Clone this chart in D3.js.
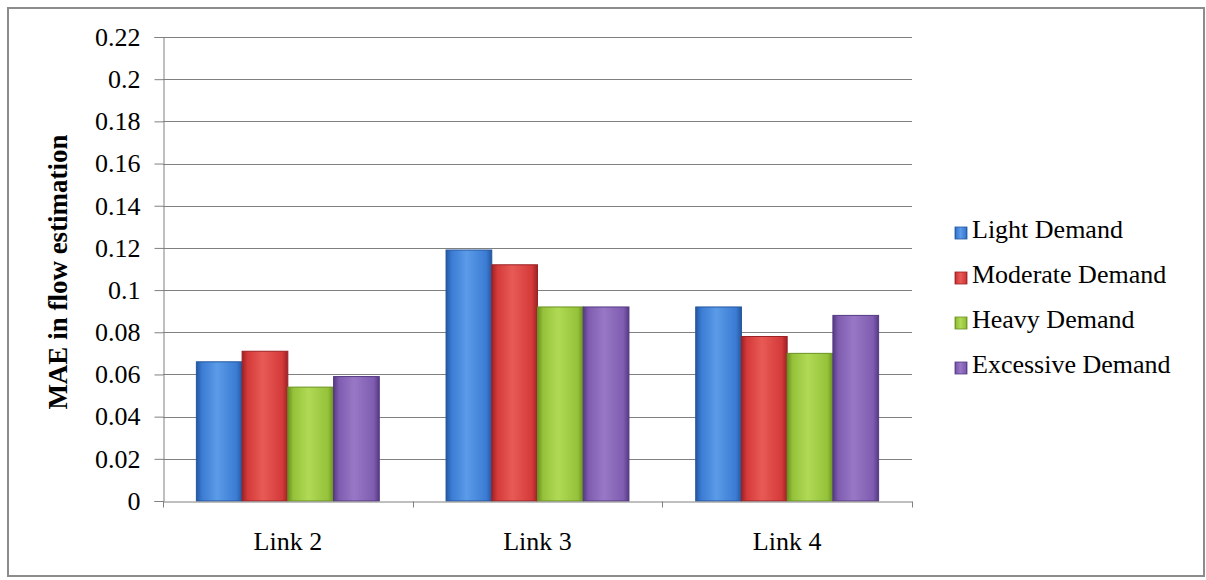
<!DOCTYPE html>
<html>
<head>
<meta charset="utf-8">
<script src="https://cdn.jsdelivr.net/npm/d3@7/dist/d3.min.js"></script>
<style>
  html, body { margin: 0; padding: 0; background: #fff; }
  svg { display: block; }
  text { font-family: "Liberation Serif", "Times New Roman", serif; fill: #000; }
</style>
</head>
<body>
<svg id="chart" width="1206" height="580"></svg>
<script>
// Mean absolute error of flow estimation per link and demand level
const links = ["Link 2", "Link 3", "Link 4"];
const demandLevels = ["Light Demand", "Moderate Demand", "Heavy Demand", "Excessive Demand"];
const lightDemand = [0.066, 0.119, 0.092];
const moderateDemand = [0.071, 0.112, 0.078];
const heavyDemand = [0.054, 0.092, 0.070];
const excessiveDemand = [0.059, 0.092, 0.088];
const yTicks = [0, 0.02, 0.04, 0.06, 0.08, 0.1, 0.12, 0.14, 0.16, 0.18, 0.2, 0.22];

const seriesValues = [lightDemand, moderateDemand, heavyDemand, excessiveDemand];
const palette = [
  { base: "#3b7bd3", light: "#5b9be8", dark: "#24579f" },
  { base: "#d43a3a", light: "#e85a55", dark: "#9c2226" },
  { base: "#95c23a", light: "#b0da55", dark: "#6a9222" },
  { base: "#7f5cb0", light: "#9878c6", dark: "#553a82" }
];

const svg = d3.select("#chart");
const margin = { left: 163, top: 37, right: 912, bottom: 501 };
const labelSize = 26;

// Outer frame
svg.append("rect")
  .attr("x", 8).attr("y", 8).attr("width", 1196).attr("height", 568)
  .attr("fill", "#fff").attr("stroke", "#8c8c8c").attr("stroke-width", 2);

const defs = svg.append("defs");
palette.forEach((c, i) => {
  const g = defs.append("linearGradient").attr("id", "bar" + i)
    .attr("x1", "0%").attr("x2", "100%").attr("y1", "0%").attr("y2", "0%");
  g.append("stop").attr("offset", "0%").attr("stop-color", c.dark);
  g.append("stop").attr("offset", "12%").attr("stop-color", c.base);
  g.append("stop").attr("offset", "45%").attr("stop-color", c.light);
  g.append("stop").attr("offset", "88%").attr("stop-color", c.base);
  g.append("stop").attr("offset", "100%").attr("stop-color", c.dark);
});

const x0 = d3.scaleBand().domain(links).range([margin.left, margin.right]).paddingInner(0).paddingOuter(0);
const x1 = d3.scaleBand().domain(demandLevels).range([0, x0.bandwidth()]).paddingInner(0).paddingOuter(0.73);
const y = d3.scaleLinear().domain([0, 0.22]).range([margin.bottom, margin.top]);

// Horizontal gridlines
svg.append("g").selectAll("line").data(yTicks.filter(d => d > 0)).join("line")
  .attr("x1", margin.left).attr("x2", margin.right)
  .attr("y1", d => Math.round(y(d)) + 0.5).attr("y2", d => Math.round(y(d)) + 0.5)
  .attr("stroke", "#808080").attr("stroke-width", 1);

// Bars
const groups = svg.append("g").selectAll("g").data(links).join("g")
  .attr("transform", d => `translate(${x0(d)},0)`);
groups.selectAll("rect")
  .data((d, i) => demandLevels.map((s, k) => ({ s, k, v: seriesValues[k][i] })))
  .join("rect")
  .attr("x", d => x1(d.s))
  .attr("y", d => y(d.v))
  .attr("width", x1.bandwidth())
  .attr("height", d => y(0) - y(d.v))
  .attr("fill", d => `url(#bar${d.k})`)
  .attr("stroke", d => palette[d.k].dark)
  .attr("stroke-width", 1);

// Y axis
const yAxis = d3.axisLeft(y).tickValues(yTicks).tickSize(9).tickPadding(14)
  .tickFormat(d => d3.format("")(+d.toFixed(2)));
const gy = svg.append("g").attr("transform", `translate(${margin.left + 0.5},0)`).call(yAxis);
gy.select(".domain").attr("stroke", "#808080");
gy.selectAll(".tick line").attr("stroke", "#808080");
gy.selectAll(".tick text").attr("font-size", labelSize).attr("font-family", "Liberation Serif");

// X axis
const xAxis = d3.axisBottom(x0).tickSize(0).tickPadding(30);
const gx = svg.append("g").attr("transform", `translate(0,${Math.round(y(0)) + 0.5})`).call(xAxis);
gx.select(".domain").attr("stroke", "#808080");
gx.selectAll(".tick text").attr("font-size", labelSize).attr("font-family", "Liberation Serif");
const boundaries = links.map(l => x0(l)).concat([margin.right]);
gx.selectAll(".sep").data(boundaries).join("line").attr("class", "sep")
  .attr("x1", d => Math.round(d) + 0.5).attr("x2", d => Math.round(d) + 0.5)
  .attr("y1", 0).attr("y2", 6).attr("stroke", "#808080");

// Y axis title
svg.append("text")
  .attr("transform", `translate(67,272) rotate(-90)`)
  .attr("text-anchor", "middle")
  .attr("font-size", 27).attr("font-weight", "bold")
  .text("MAE in flow estimation");

// Legend
const legend = svg.append("g").attr("transform", "translate(955,238)");
const items = legend.selectAll("g").data(demandLevels).join("g")
  .attr("transform", (d, i) => `translate(0,${i * 45})`);
items.append("rect").attr("x", 0).attr("y", -11).attr("width", 12).attr("height", 12)
  .attr("fill", (d, i) => `url(#bar${i})`).attr("stroke", (d, i) => palette[i].dark).attr("stroke-width", 0.8);
items.append("text").attr("x", 17).attr("y", 0).attr("font-size", labelSize).text(d => d);
</script>
</body>
</html>
